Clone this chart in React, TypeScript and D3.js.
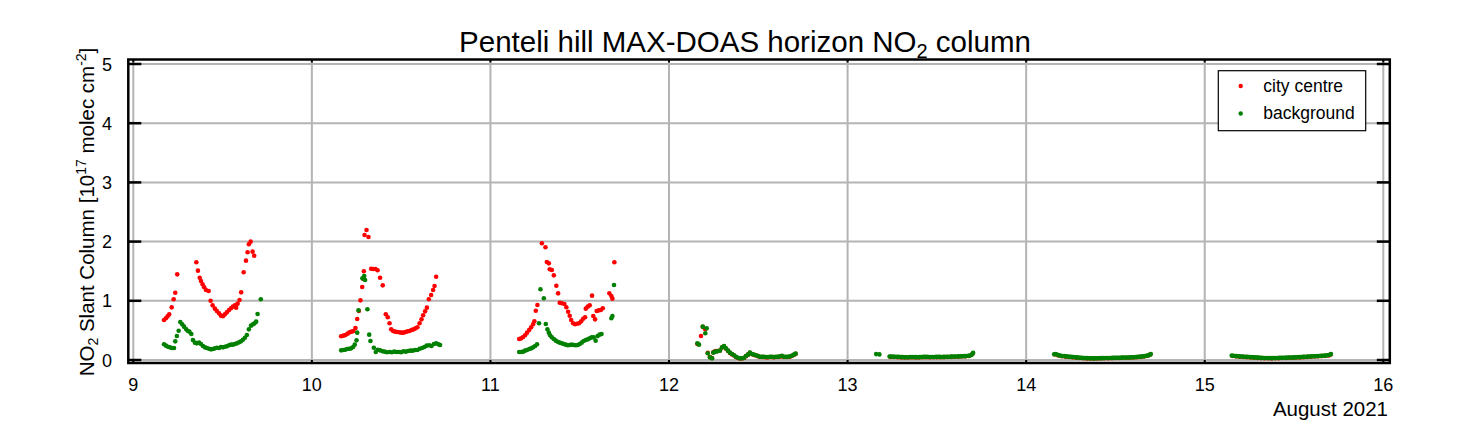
import React from "react";
import * as d3 from "d3";

type P = [number, number];

const xTicks = [9, 10, 11, 12, 13, 14, 15, 16];
const yTicks = [0, 1, 2, 3, 4, 5];
const titleMain = "Penteli hill MAX-DOAS horizon NO";
const titleEnd = " column";
const monthLabel = "August 2021";
const seriesNames = ["city centre", "background"];
const seriesColors = ["#ff0000", "#008000"];

const cityDay9: P[] = [
  [9.172, 0.676], [9.183, 0.704], [9.192, 0.738], [9.201, 0.771], [9.215, 0.889], [9.226, 1.025], [9.235, 1.137], [9.246, 1.447],
  [9.353, 1.65], [9.362, 1.509], [9.372, 1.39], [9.379, 1.334], [9.388, 1.278], [9.397, 1.228], [9.407, 1.182], [9.422, 1.166],
  [9.433, 1.002], [9.444, 0.923], [9.457, 0.867], [9.468, 0.828], [9.48, 0.788], [9.491, 0.749], [9.502, 0.738], [9.513, 0.771],
  [9.524, 0.805], [9.536, 0.845], [9.547, 0.873], [9.558, 0.901], [9.569, 0.923], [9.576, 0.884], [9.584, 0.952], [9.595, 1.014],
  [9.604, 1.143], [9.618, 1.481], [9.631, 1.678], [9.64, 1.819], [9.647, 1.954], [9.657, 1.999], [9.668, 1.83], [9.677, 1.762],
];
const bgDay9: P[] = [
  [9.172, 0.265], [9.183, 0.242], [9.194, 0.225], [9.205, 0.214], [9.216, 0.203], [9.228, 0.203], [9.235, 0.315], [9.244, 0.405],
  [9.254, 0.495], [9.263, 0.642], [9.274, 0.602], [9.284, 0.563], [9.295, 0.524], [9.304, 0.495], [9.314, 0.479], [9.325, 0.439],
  [9.334, 0.338], [9.345, 0.293], [9.356, 0.281], [9.368, 0.293], [9.379, 0.27], [9.39, 0.236], [9.401, 0.214], [9.412, 0.203],
  [9.424, 0.191], [9.435, 0.18], [9.446, 0.186], [9.457, 0.197], [9.468, 0.208], [9.48, 0.203], [9.491, 0.22], [9.502, 0.214],
  [9.513, 0.225], [9.524, 0.231], [9.536, 0.248], [9.547, 0.259], [9.558, 0.259], [9.569, 0.27], [9.58, 0.281], [9.592, 0.298],
  [9.603, 0.315], [9.614, 0.343], [9.625, 0.377], [9.636, 0.422], [9.647, 0.518], [9.659, 0.58], [9.67, 0.602], [9.679, 0.619],
  [9.688, 0.648], [9.696, 0.777], [9.714, 1.025],
];
const cityDay10: P[] = [
  [10.164, 0.4], [10.177, 0.411], [10.188, 0.422], [10.2, 0.445], [10.211, 0.467], [10.222, 0.479], [10.233, 0.49], [10.244, 0.541],
  [10.254, 0.693], [10.263, 0.828], [10.272, 1.008], [10.282, 1.233], [10.289, 1.368], [10.291, 1.498], [10.295, 2.111], [10.306, 2.196],
  [10.317, 2.078], [10.332, 1.542], [10.343, 1.537], [10.356, 1.537], [10.368, 1.515], [10.382, 1.39], [10.397, 1.261], [10.414, 0.772],
  [10.425, 0.721], [10.435, 0.62], [10.444, 0.518], [10.455, 0.49], [10.466, 0.479], [10.477, 0.473], [10.491, 0.467], [10.502, 0.462],
  [10.513, 0.462], [10.524, 0.473], [10.536, 0.484], [10.547, 0.49], [10.558, 0.507], [10.569, 0.518], [10.58, 0.535], [10.591, 0.552],
  [10.603, 0.62], [10.614, 0.687], [10.623, 0.755], [10.634, 0.822], [10.644, 0.884], [10.655, 1.025], [10.668, 1.098], [10.679, 1.182],
  [10.687, 1.25], [10.696, 1.407],
];
const bgDay10: P[] = [
  [10.164, 0.163], [10.175, 0.169], [10.186, 0.174], [10.197, 0.186], [10.209, 0.191], [10.22, 0.197], [10.231, 0.22], [10.24, 0.259],
  [10.25, 0.332], [10.254, 0.462], [10.261, 0.839], [10.283, 1.379], [10.293, 1.419], [10.298, 1.351], [10.311, 0.856], [10.321, 0.428],
  [10.328, 0.321], [10.347, 0.208], [10.358, 0.135], [10.369, 0.174], [10.382, 0.163], [10.395, 0.147], [10.408, 0.141], [10.421, 0.13],
  [10.435, 0.135], [10.448, 0.13], [10.461, 0.141], [10.474, 0.135], [10.487, 0.135], [10.5, 0.13], [10.513, 0.147], [10.526, 0.141],
  [10.539, 0.152], [10.552, 0.158], [10.565, 0.158], [10.578, 0.169], [10.591, 0.169], [10.604, 0.191], [10.617, 0.203], [10.63, 0.22],
  [10.643, 0.242], [10.657, 0.248], [10.67, 0.236], [10.683, 0.27], [10.696, 0.281], [10.709, 0.264], [10.718, 0.253],
];
const cityDay11: P[] = [
  [11.161, 0.355], [11.172, 0.366], [11.183, 0.389], [11.194, 0.417], [11.205, 0.462], [11.217, 0.507], [11.228, 0.552], [11.239, 0.603],
  [11.246, 0.653], [11.254, 0.833], [11.263, 0.929], [11.288, 1.971], [11.308, 1.904], [11.316, 1.655], [11.327, 1.633], [11.332, 1.532],
  [11.344, 1.52], [11.355, 1.43], [11.369, 1.255], [11.379, 1.126], [11.388, 0.968], [11.4, 0.958], [11.414, 0.946], [11.425, 0.89],
  [11.435, 0.816], [11.444, 0.748], [11.452, 0.676], [11.463, 0.62], [11.474, 0.603], [11.485, 0.613], [11.496, 0.62], [11.508, 0.653],
  [11.519, 0.698], [11.53, 0.721], [11.534, 0.867], [11.545, 0.901], [11.556, 0.923], [11.569, 1.087], [11.576, 0.743], [11.586, 0.687],
  [11.595, 0.828], [11.607, 0.839], [11.618, 0.845], [11.629, 0.873], [11.666, 1.126], [11.677, 1.081], [11.683, 1.036], [11.694, 1.65],
];
const bgDay11: P[] = [
  [11.161, 0.135], [11.172, 0.135], [11.183, 0.141], [11.194, 0.158], [11.205, 0.169], [11.217, 0.186], [11.228, 0.197], [11.239, 0.214],
  [11.25, 0.236], [11.261, 0.265], [11.272, 0.62], [11.28, 1.194], [11.299, 1.042], [11.31, 0.608], [11.319, 0.518], [11.327, 0.462],
  [11.334, 0.417], [11.344, 0.383], [11.355, 0.355], [11.366, 0.327], [11.377, 0.309], [11.388, 0.293], [11.4, 0.281], [11.411, 0.27],
  [11.422, 0.259], [11.433, 0.248], [11.444, 0.253], [11.455, 0.259], [11.466, 0.253], [11.478, 0.248], [11.489, 0.253], [11.5, 0.27],
  [11.511, 0.293], [11.522, 0.321], [11.534, 0.338], [11.545, 0.349], [11.556, 0.366], [11.567, 0.383], [11.578, 0.383], [11.589, 0.327],
  [11.6, 0.405], [11.611, 0.428], [11.622, 0.439], [11.677, 0.704], [11.683, 0.743], [11.692, 1.267],
];
const cityDay12: P[] = [
  [12.159, 0.27], [12.179, 0.405], [12.189, 0.56], [12.203, 0.52], [12.217, 0.12], [12.229, 0.05], [12.241, 0.035], [12.248, 0.13],
  [12.259, 0.15], [12.27, 0.15], [12.285, 0.16], [12.297, 0.21], [12.308, 0.23], [12.319, 0.19], [12.33, 0.155], [12.341, 0.12],
  [12.353, 0.095], [12.364, 0.075], [12.375, 0.05], [12.386, 0.035], [12.397, 0.025], [12.409, 0.025], [12.42, 0.035], [12.431, 0.065],
  [12.442, 0.09], [12.453, 0.12], [12.464, 0.1], [12.476, 0.085], [12.487, 0.075], [12.498, 0.065], [12.509, 0.05], [12.52, 0.05],
  [12.531, 0.05], [12.543, 0.045], [12.554, 0.045], [12.565, 0.05], [12.576, 0.05], [12.587, 0.045], [12.599, 0.05], [12.61, 0.05],
  [12.621, 0.055], [12.632, 0.065], [12.643, 0.05], [12.654, 0.05], [12.666, 0.05], [12.677, 0.055], [12.688, 0.07], [12.699, 0.085],
  [12.709, 0.105],
];
const bgDay12: P[] = [
  [12.159, 0.282], [12.168, 0.259], [12.189, 0.563], [12.211, 0.535], [12.203, 0.451], [12.217, 0.113], [12.229, 0.045], [12.241, 0.028],
  [12.248, 0.124], [12.259, 0.141], [12.27, 0.146], [12.285, 0.158], [12.297, 0.214], [12.308, 0.236], [12.319, 0.197], [12.33, 0.158],
  [12.341, 0.124], [12.353, 0.101], [12.364, 0.079], [12.375, 0.056], [12.386, 0.039], [12.397, 0.028], [12.409, 0.028], [12.42, 0.039],
  [12.431, 0.068], [12.442, 0.09], [12.453, 0.124], [12.464, 0.101], [12.476, 0.09], [12.487, 0.079], [12.498, 0.068], [12.509, 0.056],
  [12.52, 0.056], [12.531, 0.056], [12.543, 0.051], [12.554, 0.051], [12.565, 0.056], [12.576, 0.056], [12.587, 0.051], [12.599, 0.056],
  [12.61, 0.056], [12.621, 0.062], [12.632, 0.073], [12.643, 0.056], [12.654, 0.056], [12.666, 0.056], [12.677, 0.062], [12.688, 0.073],
  [12.699, 0.09], [12.709, 0.107],
];
const cityDay13: P[] = [
  [13.24, 0.052], [13.26, 0.05], [13.28, 0.047], [13.3, 0.044], [13.32, 0.042], [13.34, 0.043], [13.36, 0.045], [13.38, 0.043],
  [13.4, 0.044], [13.42, 0.047], [13.44, 0.047], [13.46, 0.045], [13.48, 0.046], [13.5, 0.047], [13.52, 0.046], [13.54, 0.048],
  [13.56, 0.05], [13.58, 0.052], [13.6, 0.054], [13.62, 0.056], [13.64, 0.058], [13.66, 0.062], [13.68, 0.068], [13.7, 0.105],
];
const bgDay13: P[] = [
  [13.16, 0.1], [13.178, 0.095],
  [13.235, 0.06], [13.245, 0.058], [13.256, 0.057], [13.266, 0.055], [13.277, 0.054], [13.287, 0.052], [13.298, 0.05], [13.308, 0.048],
  [13.319, 0.047], [13.329, 0.046], [13.34, 0.047], [13.35, 0.049], [13.361, 0.05], [13.371, 0.049], [13.382, 0.048], [13.392, 0.047],
  [13.403, 0.048], [13.413, 0.05], [13.424, 0.052], [13.434, 0.053], [13.445, 0.052], [13.455, 0.051], [13.466, 0.05], [13.476, 0.05],
  [13.487, 0.051], [13.497, 0.052], [13.508, 0.053], [13.518, 0.052], [13.529, 0.051], [13.539, 0.052], [13.55, 0.054], [13.56, 0.055],
  [13.571, 0.056], [13.581, 0.057], [13.592, 0.058], [13.602, 0.059], [13.613, 0.06], [13.623, 0.061], [13.634, 0.062], [13.644, 0.063],
  [13.655, 0.065], [13.665, 0.067], [13.676, 0.07], [13.686, 0.076], [13.695, 0.09], [13.703, 0.12],
];
const cityDay14: P[] = [
  [14.16, 0.092], [14.18, 0.078], [14.2, 0.063], [14.22, 0.057], [14.24, 0.05], [14.26, 0.045], [14.28, 0.04], [14.3, 0.034],
  [14.32, 0.03], [14.34, 0.027], [14.36, 0.025], [14.38, 0.024], [14.4, 0.026], [14.42, 0.028], [14.44, 0.029], [14.46, 0.03],
  [14.48, 0.032], [14.5, 0.033], [14.52, 0.035], [14.54, 0.037], [14.56, 0.038], [14.58, 0.04], [14.6, 0.043], [14.62, 0.047],
  [14.64, 0.052], [14.66, 0.058], [14.68, 0.072], [14.695, 0.092],
];
const bgDay14: P[] = [
  [14.157, 0.098], [14.166, 0.1], [14.175, 0.088], [14.185, 0.078], [14.194, 0.07], [14.204, 0.068], [14.214, 0.066], [14.224, 0.062],
  [14.234, 0.058], [14.244, 0.055], [14.254, 0.052], [14.264, 0.05], [14.274, 0.047], [14.284, 0.044], [14.294, 0.041], [14.304, 0.038],
  [14.314, 0.036], [14.324, 0.034], [14.334, 0.032], [14.344, 0.031], [14.354, 0.03], [14.364, 0.029], [14.374, 0.028], [14.384, 0.028],
  [14.394, 0.029], [14.404, 0.03], [14.414, 0.031], [14.424, 0.032], [14.434, 0.032], [14.444, 0.033], [14.454, 0.034], [14.464, 0.034],
  [14.474, 0.035], [14.484, 0.036], [14.494, 0.036], [14.504, 0.037], [14.514, 0.038], [14.524, 0.039], [14.534, 0.04], [14.544, 0.041],
  [14.554, 0.041], [14.564, 0.042], [14.574, 0.043], [14.584, 0.044], [14.594, 0.046], [14.604, 0.047], [14.614, 0.049], [14.624, 0.052],
  [14.634, 0.054], [14.644, 0.057], [14.654, 0.062], [14.664, 0.066], [14.674, 0.07], [14.684, 0.078], [14.692, 0.088], [14.698, 0.1],
];
const cityDay15: P[] = [
  [15.155, 0.068], [15.175, 0.062], [15.195, 0.057], [15.215, 0.052], [15.235, 0.048], [15.255, 0.044], [15.275, 0.04], [15.295, 0.036],
  [15.315, 0.032], [15.335, 0.03], [15.355, 0.029], [15.375, 0.028], [15.395, 0.029], [15.415, 0.031], [15.435, 0.033], [15.455, 0.035],
  [15.475, 0.037], [15.495, 0.039], [15.515, 0.041], [15.535, 0.044], [15.555, 0.048], [15.575, 0.052], [15.595, 0.056], [15.615, 0.059],
  [15.635, 0.062], [15.655, 0.066], [15.675, 0.07], [15.695, 0.078], [15.705, 0.092],
];
const bgDay15: P[] = [
  [15.151, 0.075], [15.16, 0.072], [15.17, 0.068], [15.18, 0.065], [15.19, 0.062], [15.2, 0.06], [15.21, 0.058], [15.22, 0.056],
  [15.23, 0.054], [15.24, 0.052], [15.25, 0.05], [15.26, 0.048], [15.27, 0.046], [15.28, 0.044], [15.29, 0.042], [15.3, 0.04],
  [15.31, 0.038], [15.32, 0.036], [15.33, 0.035], [15.34, 0.034], [15.35, 0.033], [15.36, 0.033], [15.37, 0.032], [15.38, 0.032],
  [15.39, 0.033], [15.4, 0.034], [15.41, 0.035], [15.42, 0.036], [15.43, 0.037], [15.44, 0.038], [15.45, 0.039], [15.46, 0.04],
  [15.47, 0.041], [15.48, 0.042], [15.49, 0.043], [15.5, 0.044], [15.51, 0.045], [15.52, 0.047], [15.53, 0.048], [15.54, 0.05],
  [15.55, 0.052], [15.56, 0.054], [15.57, 0.056], [15.58, 0.058], [15.59, 0.06], [15.6, 0.062], [15.61, 0.063], [15.62, 0.064],
  [15.63, 0.066], [15.64, 0.068], [15.65, 0.07], [15.66, 0.072], [15.67, 0.074], [15.68, 0.077], [15.69, 0.08], [15.7, 0.088],
  [15.707, 0.1],
];

const cityCentre: P[] = [...cityDay9, ...cityDay10, ...cityDay11, ...cityDay12, ...cityDay13, ...cityDay14, ...cityDay15];
const background: P[] = [...bgDay9, ...bgDay10, ...bgDay11, ...bgDay12, ...bgDay13, ...bgDay14, ...bgDay15];

const W = 1458;
const H = 437;
const FONT = "'Liberation Sans', Arial, Helvetica, sans-serif";

function Txt(props: {
  x: number; y: number; size: number; anchor?: string; rotate?: boolean; children: React.ReactNode;
}) {
  const { x, y, size, anchor = "start", rotate = false, children } = props;
  const tr = `translate(${x},${y})` + (rotate ? " rotate(-90)" : "");
  return (
    <text transform={tr} textAnchor={anchor as any} fontSize={size} fontFamily={FONT} fill="#000">
      {children}
    </text>
  );
}

export default function App() {
  const x = d3.scaleLinear().domain([9, 16]).range([133.3, 1383.3]);
  const y = d3.scaleLinear().domain([0, 5]).range([360, 64]);
  const left = x(9) - 5;
  const right = x(16) + 6.5;
  const top = y(5) - 4.5;
  const bottom = y(0) + 3;
  const grid = "#b4b4b4";
  const tickLen = 13;
  const r = 2.3;

  return (
    <svg width={W} height={H} style={{ position: "absolute", left: 0, top: 0, background: "#fff" }}>
      <rect x={0} y={0} width={W} height={H} fill="#fff" />
      {xTicks.map((t) => (
        <line key={"gx" + t} x1={x(t)} x2={x(t)} y1={top} y2={bottom} stroke={grid} strokeWidth={2} />
      ))}
      {yTicks.map((t) => (
        <line key={"gy" + t} x1={left} x2={right} y1={y(t)} y2={y(t)} stroke={grid} strokeWidth={2} />
      ))}
      {yTicks.map((t) => (
        <g key={"ty" + t}>
          <line x1={left} x2={left + tickLen} y1={y(t)} y2={y(t)} stroke="#000" strokeWidth={2.5} />
          <line x1={right - tickLen} x2={right} y1={y(t)} y2={y(t)} stroke="#000" strokeWidth={2.5} />
        </g>
      ))}
      {xTicks.map((t) => (
        <g key={"tx" + t}>
          <line x1={x(t)} x2={x(t)} y1={bottom} y2={bottom - 3} stroke="#000" strokeWidth={2} />
          <line x1={x(t)} x2={x(t)} y1={top} y2={top + 3} stroke="#000" strokeWidth={2} />
        </g>
      ))}
      <g>
        {cityCentre.map((d, i) => (
          <circle key={"c" + i} cx={x(d[0])} cy={y(d[1])} r={r} fill={seriesColors[0]} />
        ))}
        {background.map((d, i) => (
          <circle key={"b" + i} cx={x(d[0])} cy={y(d[1])} r={r} fill={seriesColors[1]} />
        ))}
      </g>
      <rect x={left} y={top} width={right - left} height={bottom - top} fill="none" stroke="#000" strokeWidth={2.5} />
      {xTicks.map((t) => (
        <Txt key={"lx" + t} x={x(t)} y={391} size={18} anchor="middle">{t}</Txt>
      ))}
      {yTicks.map((t) => (
        <Txt key={"ly" + t} x={112} y={y(t) + 6.5} size={18} anchor="end">{t}</Txt>
      ))}
      <Txt x={1388} y={416} size={20.5} anchor="end">{monthLabel}</Txt>
      <Txt x={94} y={212} size={20.5} anchor="middle" rotate>
        <tspan>NO</tspan>
        <tspan fontSize={14} dy={4}>2</tspan>
        <tspan dy={-4}> Slant Column [10</tspan>
        <tspan fontSize={14} dy={-8}>17</tspan>
        <tspan dy={8}> molec cm</tspan>
        <tspan fontSize={14} dy={-8}>-2</tspan>
        <tspan dy={8}>]</tspan>
      </Txt>
      <Txt x={745} y={52} size={29.5} anchor="middle">
        <tspan>{titleMain}</tspan>
        <tspan fontSize={20} dy={6}>2</tspan>
        <tspan dy={-6}>{titleEnd}</tspan>
      </Txt>
      <rect x={1218.3} y={70.7} width={147.4} height={60} fill="#fff" stroke="#000" strokeWidth={1.2} />
      {seriesNames.map((n, i) => (
        <g key={n}>
          <circle cx={1240.7} cy={86 + i * 27.5} r={2.2} fill={seriesColors[i]} />
          <Txt x={1263.3} y={91.5 + i * 27.5} size={17.5}>{n}</Txt>
        </g>
      ))}
    </svg>
  );
}
